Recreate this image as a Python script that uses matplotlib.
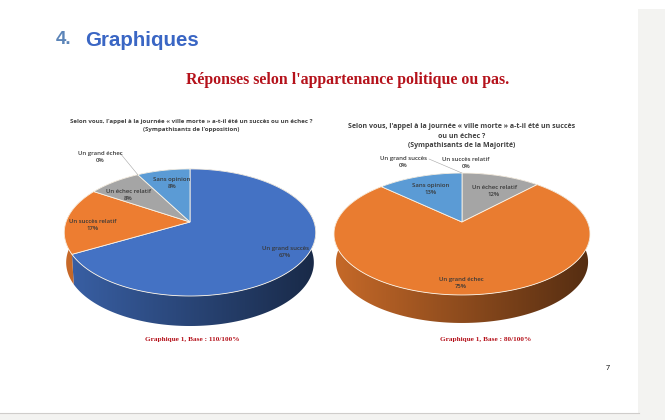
import numpy as np
import matplotlib
matplotlib.use("Agg")
import matplotlib.pyplot as plt
from matplotlib.patches import Polygon, Rectangle

labels1 = ["Un grand succès", "Un succès relatif", "Un échec relatif", "Un grand échec", "Sans opinion"]
values1 = [67, 17, 8, 0, 8]
colors1 = ["#4472C4", "#ED7D31", "#A5A5A5", "#FFC000", "#5B9BD5"]
label_xy1 = [(285, 252), (93, 225), (128, 195), (100, 157), (172, 183)]

labels2 = ["Un grand succès", "Un succès relatif", "Un échec relatif", "Un grand échec", "Sans opinion"]
values2 = [0, 0, 12, 75, 13]
colors2 = ["#4472C4", "#A5A5A5", "#A5A5A5", "#E97C30", "#5B9BD5"]
label_xy2 = [(403, 162), (466, 163), (494, 191), (461, 283), (431, 189)]

# apex x, apex y, A, B, perspective k, wall depth
geom1 = (190, 222, 124, 61.8, 0.165, 30)
geom2 = (462, 222, 125.5, 58.6, 0.197, 28)

title1 = "Selon vous, l'appel à la journée « ville morte » a-t-il été un succès ou un échec ?\n(Sympathisants de l'opposition)"
title2 = "Selon vous, l'appel à la journée « ville morte » a-t-il été un succès\nou un échec ?\n(Sympathisants de la Majorité)"
caption1 = "Graphique 1, Base : 110/100%"
caption2 = "Graphique 1, Base : 80/100%"

plt.rcParams["font.family"] = ["Open Sans", "DejaVu Sans"]

fig = plt.figure(figsize=(6.65, 4.2), dpi=100)
ax = fig.add_axes([0, 0, 1, 1])
ax.set_xlim(0, 665)
ax.set_ylim(420, 0)
ax.axis("off")


def rim(geom, angles, drop=0.0, shrink=1.0):
    x0, y0, a, b, k, _ = geom
    u, v = np.sin(angles), np.cos(angles)
    w = 1 + k * v
    return np.column_stack([x0 + shrink * a * u / w, y0 - b * v / w + drop])


def draw_pie(geom, values, colors):
    x0, y0, a, b, k, depth = geom
    edges = 2 * np.pi * np.cumsum([0] + values) / sum(values)
    # walls first, the top face covers what sticks out at the back
    for i, c in enumerate(colors):
        if values[i] == 0:
            continue
        ang = np.linspace(edges[i], edges[i + 1], 200)
        band = np.vstack([rim(geom, ang), rim(geom, ang, depth, 0.985)[::-1]])
        clip = Polygon(band, closed=True, transform=ax.transData, fc="none", ec="none")
        ax.add_patch(clip)
        rgb = np.array(matplotlib.colors.to_rgb(c))
        shade = np.linspace(0.85, 0.36, 256)[None, :, None] * rgb[None, None, :]
        im = ax.imshow(shade, extent=(x0 - a - 4, x0 + a + 4, y0 + 120, y0 - 120),
                       aspect="auto", zorder=1)
        im.set_clip_path(clip)
    for i, c in enumerate(colors):
        if values[i] == 0:
            continue
        ang = np.linspace(edges[i], edges[i + 1], 200)
        pts = np.vstack([[x0, y0], rim(geom, ang)])
        ax.add_patch(Polygon(pts, closed=True, fc=c, ec="#fbf3e6", lw=0.6, zorder=2))
    return edges


def draw_labels(labels, values, label_xy):
    for lab, val, (x, y) in zip(labels, values, label_xy):
        ax.text(x, y, f"{lab}\n{val}%", ha="center", va="center", fontsize=4.3,
                color="#383838", linespacing=1.5, fontweight="semibold", zorder=4)


# page background
ax.add_patch(Rectangle((638, 9), 27, 411, fc="#f3f3f1", ec="none", zorder=0))
ax.add_patch(Rectangle((0, 413), 665, 7, fc="#f3f3f1", ec="none", zorder=0))
ax.plot([0, 639], [412.5, 412.5], color="#cfcdcb", lw=0.8, zorder=0)

ax.text(56, 40, "4.", fontsize=13.5, fontweight="bold", color="#5b84b8", va="center",
        family="Liberation Sans")
ax.text(85, 40, "Graphiques", fontsize=14.8, fontweight="bold", color="#3a66c4", va="center",
        family="Liberation Sans")
ax.text(348, 80, "Réponses selon l'appartenance politique ou pas.", fontsize=11.4,
        fontweight="bold", color="#b5121b", ha="center", va="center", family="Liberation Serif")

edges1 = draw_pie(geom1, values1, colors1)
edges2 = draw_pie(geom2, values2, colors2)
draw_labels(labels1, values1, label_xy1)
draw_labels(labels2, values2, label_xy2)

# leader lines to the empty slices
p = rim(geom1, edges1[3:4])[0]
ax.plot([120, p[0]], [153, p[1]], color="#a6a6a6", lw=0.4, zorder=3)
p = rim(geom2, edges2[0:1])[0]
ax.plot([429, p[0]], [159, p[1]], color="#a6a6a6", lw=0.4, zorder=3)

ax.text(191, 125, title1, fontsize=4.45, fontweight="bold", color="#404040", ha="center",
        va="center", linespacing=1.75)
ax.text(462, 136, title2, fontsize=5.05, fontweight="bold", color="#404040", ha="center",
        va="center", linespacing=1.5)

ax.text(192, 339, caption1, fontsize=5.2, fontweight="bold", color="#b5121b", ha="center",
        va="center", family="Liberation Serif")
ax.text(486, 339, caption2, fontsize=5.2, fontweight="bold", color="#b5121b", ha="center",
        va="center", family="Liberation Serif")
ax.text(608, 369, "7", fontsize=5.2, color="black", ha="center", va="center")

ax.set_xlim(0, 665)
ax.set_ylim(420, 0)
fig.savefig("out.png", dpi=100)
